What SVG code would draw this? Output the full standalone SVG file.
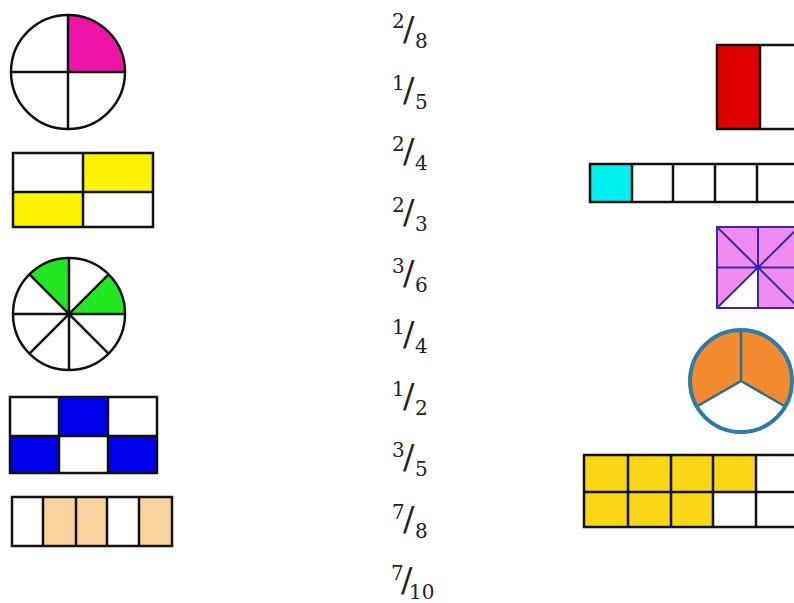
<svg xmlns="http://www.w3.org/2000/svg" width="794" height="603" viewBox="0 0 794 603">
<style>
.k{stroke:#111;stroke-width:2.5;fill:none}
.n{font-family:"DejaVu Serif","Liberation Serif",serif;font-size:20px;fill:#222}
.s{font-size:34px}
</style>
<rect width="794" height="603" fill="#fff"/>
<g id="pie4">
<circle cx="68" cy="72" r="57" fill="#fff"/>
<path d="M68,72 L68,15 A57,57 0 0 1 125,72 Z" fill="#EE14A8"/>
<circle cx="68" cy="72" r="57" class="k"/>
<path d="M68,15 V129 M11,72 H125" class="k"/>
</g>
<g id="rect4">
<rect x="13" y="153" width="140" height="74" fill="#fff"/>
<rect x="83" y="153" width="70" height="39" fill="#FFF200"/>
<rect x="13" y="192" width="70" height="35" fill="#FFF200"/>
<rect x="13" y="153" width="140" height="74" class="k"/>
<path d="M83,153 V227 M13,192 H153" class="k"/>
</g>
<g id="pie8">
<circle cx="69" cy="314" r="56" fill="#fff"/>
<path d="M69,314 L29.4,274.4 A56,56 0 0 1 69,258 Z" fill="#22E822"/>
<path d="M69,314 L108.6,274.4 A56,56 0 0 1 125,314 Z" fill="#22E822"/>
<circle cx="69" cy="314" r="56" class="k"/>
<path d="M69,258 V370 M13,314 H125 M29.4,274.4 L108.6,353.6 M108.6,274.4 L29.4,353.6" class="k"/>
</g>
<g id="grid6">
<rect x="10" y="397" width="147" height="76" fill="#fff"/>
<rect x="59" y="397" width="49" height="39" fill="#0000EE"/>
<rect x="10" y="436" width="49" height="37" fill="#0000EE"/>
<rect x="108" y="436" width="49" height="37" fill="#0000EE"/>
<rect x="10" y="397" width="147" height="76" class="k"/>
<path d="M59,397 V473 M108,397 V473 M10,436 H157" class="k"/>
</g>
<g id="strip5">
<rect x="12" y="497" width="160" height="49" fill="#fff"/>
<rect x="43" y="497" width="64" height="49" fill="#F8D59C"/>
<rect x="139" y="497" width="33" height="49" fill="#F8D59C"/>
<rect x="12" y="497" width="160" height="49" class="k"/>
<path d="M43,497 V546 M76,497 V546 M107,497 V546 M139,497 V546" class="k"/>
</g>
<g id="fractions">
<g id="f1"><text class="n"><tspan x="392" y="28">2</tspan><tspan class="s" x="403" y="41">/</tspan><tspan x="415" y="48">8</tspan></text></g>
<g id="f2"><text class="n"><tspan x="392" y="90">1</tspan><tspan class="s" x="403" y="102">/</tspan><tspan x="415" y="109">5</tspan></text></g>
<g id="f3"><text class="n"><tspan x="392" y="151">2</tspan><tspan class="s" x="403" y="163">/</tspan><tspan x="415" y="170">4</tspan></text></g>
<g id="f4"><text class="n"><tspan x="392" y="212">2</tspan><tspan class="s" x="403" y="224">/</tspan><tspan x="415" y="231">3</tspan></text></g>
<g id="f5"><text class="n"><tspan x="392" y="273">3</tspan><tspan class="s" x="403" y="285">/</tspan><tspan x="415" y="292">6</tspan></text></g>
<g id="f6"><text class="n"><tspan x="392" y="334">1</tspan><tspan class="s" x="403" y="346">/</tspan><tspan x="415" y="353">4</tspan></text></g>
<g id="f7"><text class="n"><tspan x="392" y="396">1</tspan><tspan class="s" x="403" y="408">/</tspan><tspan x="415" y="415">2</tspan></text></g>
<g id="f8"><text class="n"><tspan x="392" y="457">3</tspan><tspan class="s" x="403" y="469">/</tspan><tspan x="415" y="476">5</tspan></text></g>
<g id="f9"><text class="n"><tspan x="392" y="519">7</tspan><tspan class="s" x="403" y="531">/</tspan><tspan x="415" y="538">8</tspan></text></g>
<g id="f10"><text class="n"><tspan x="391" y="580">7</tspan><tspan class="s" x="401" y="592">/</tspan><tspan x="409" y="599">10</tspan></text></g>
</g>
<g id="redbar">
<rect x="717" y="45" width="100" height="84" fill="#fff"/>
<rect x="717" y="45" width="43" height="84" fill="#E00000"/>
<rect x="717" y="45" width="100" height="84" class="k" stroke-width="2"/>
<path d="M760,45 V129" class="k"/>
</g>
<g id="cyanstrip">
<rect x="590" y="164" width="230" height="38" fill="#fff"/>
<rect x="590" y="164" width="42" height="38" fill="#00F0F0"/>
<rect x="590" y="164" width="230" height="38" class="k" stroke-width="3.5"/>
<path d="M632,164 V202 M673,164 V202 M715,164 V202 M757,164 V202" class="k" stroke-width="3"/>
</g>
<g id="pinksquare">
<rect x="717" y="227" width="82" height="81" fill="#F08CF0"/>
<path d="M758,267.5 L717,308 L758,308 Z" fill="#fff"/>
<rect x="717" y="227" width="82" height="81" fill="none" stroke="#3A2A9A" stroke-width="2"/>
<path d="M758,227 V308 M717,267.5 H799 M717,227 L799,308 M717,308 L799,227" fill="none" stroke="#3A2A9A" stroke-width="2"/>
<circle cx="758" cy="267.5" r="2.5" fill="#2020E0"/>
</g>
<g id="orangepie">
<circle cx="741" cy="381" r="51" fill="#fff"/>
<path d="M741,381 L696.8,406.5 A51,51 0 0 1 741,330 Z" fill="#F28A30"/>
<path d="M741,381 L741,330 A51,51 0 0 1 785.2,406.5 Z" fill="#F28A30"/>
<path d="M741,330 V381 L696.8,406.5 M741,381 L785.2,406.5" fill="none" stroke="#2E6F8E" stroke-width="2.5"/>
<circle cx="741" cy="381" r="51" fill="none" stroke="#2E7BA8" stroke-width="4"/>
</g>
<g id="yellowgrid">
<rect x="584" y="455" width="230" height="72" fill="#fff"/>
<rect x="584" y="455" width="172" height="37" fill="#F9D616"/>
<rect x="584" y="492" width="129" height="35" fill="#F9D616"/>
<rect x="584" y="455" width="230" height="72" class="k" stroke-width="4"/>
<path d="M628,455 V527 M671,455 V527 M713,455 V527 M756,455 V527 M584,492 H814" class="k" stroke-width="3.5"/>
</g>
</svg>
